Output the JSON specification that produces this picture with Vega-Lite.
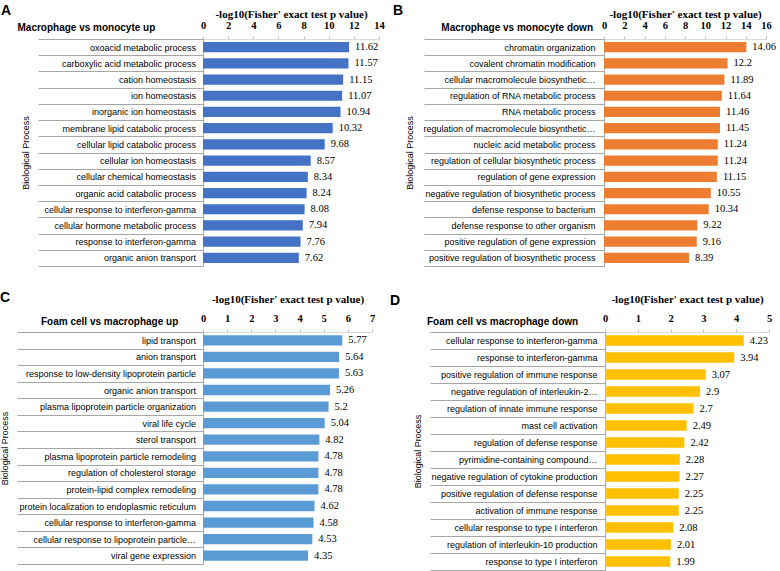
{
  "$schema": "https://vega.github.io/schema/vega-lite/v6.json",
  "padding": {"left": 0, "top": 3, "right": 0, "bottom": 0},
  "background": "white",
  "config": {
    "view": {"stroke": null},
    "font": "Liberation Sans",
    "title": {"color": "#000000", "font": "Liberation Sans", "fontWeight": "bold"},
    "axisX": {
      "labelFont": "Liberation Sans Narrow", "labelFontSize": 10.5, "labelFontWeight": "bold", "labelColor": "#000000",
      "titleFont": "Liberation Sans Narrow", "titleFontSize": 11, "titleFontWeight": "bold", "titleColor": "#000000",
      "tickSize": 3, "tickColor": "#bfbfbf", "domainColor": "#d9d9d9", "labelPadding": 6, "titlePadding": 1,
      "labelFlush": false, "labelOverlap": false, "grid": false
    },
    "axisY": {
      "labelFont": "Liberation Sans", "labelFontSize": 9, "labelColor": "#000000", "labelLimit": 400,
      "titleFont": "Liberation Sans", "titleFontSize": 9, "titleFontWeight": "normal", "titleColor": "#000000",
      "tickColor": "#a6a6a6", "domainColor": "#a6a6a6", "tickBand": "extent", "grid": false, "labelAlign": "right"
    }
  },
  "datasets": {
    "A": [
      {"term": "oxoacid metabolic process", "value": 11.62},
      {"term": "carboxylic acid metabolic process", "value": 11.57},
      {"term": "cation homeostasis", "value": 11.15},
      {"term": "ion homeostasis", "value": 11.07},
      {"term": "inorganic ion homeostasis", "value": 10.94},
      {"term": "membrane lipid catabolic process", "value": 10.32},
      {"term": "cellular lipid catabolic process", "value": 9.68},
      {"term": "cellular ion homeostasis", "value": 8.57},
      {"term": "cellular chemical homeostasis", "value": 8.34},
      {"term": "organic acid catabolic process", "value": 8.24},
      {"term": "cellular response to interferon-gamma", "value": 8.08},
      {"term": "cellular hormone metabolic process", "value": 7.94},
      {"term": "response to interferon-gamma", "value": 7.76},
      {"term": "organic anion transport", "value": 7.62}
    ],
    "B": [
      {"term": "chromatin organization", "value": 14.06},
      {"term": "covalent chromatin modification", "value": 12.2},
      {"term": "cellular macromolecule biosynthetic…", "value": 11.89},
      {"term": "regulation of RNA metabolic process", "value": 11.64},
      {"term": "RNA metabolic process", "value": 11.46},
      {"term": "regulation of macromolecule biosynthetic…", "value": 11.45},
      {"term": "nucleic acid metabolic process", "value": 11.24},
      {"term": "regulation of cellular biosynthetic process", "value": 11.24},
      {"term": "regulation of gene expression", "value": 11.15},
      {"term": "negative regulation of biosynthetic process", "value": 10.55},
      {"term": "defense response to bacterium", "value": 10.34},
      {"term": "defense response to other organism", "value": 9.22},
      {"term": "positive regulation of gene expression", "value": 9.16},
      {"term": "positive regulation of biosynthetic process", "value": 8.39}
    ],
    "C": [
      {"term": "lipid transport", "value": 5.77},
      {"term": "anion transport", "value": 5.64},
      {"term": "response to low-density lipoprotein particle", "value": 5.63},
      {"term": "organic anion transport", "value": 5.26},
      {"term": "plasma lipoprotein particle organization", "value": 5.2},
      {"term": "viral life cycle", "value": 5.04},
      {"term": "sterol transport", "value": 4.82},
      {"term": "plasma lipoprotein particle remodeling", "value": 4.78},
      {"term": "regulation of cholesterol storage", "value": 4.78},
      {"term": "protein-lipid complex remodeling", "value": 4.78},
      {"term": "protein localization to endoplasmic reticulum", "value": 4.62},
      {"term": "cellular response to interferon-gamma", "value": 4.58},
      {"term": "cellular response to lipoprotein particle…", "value": 4.53},
      {"term": "viral gene expression", "value": 4.35}
    ],
    "D": [
      {"term": "cellular response to interferon-gamma", "value": 4.23},
      {"term": "response to interferon-gamma", "value": 3.94},
      {"term": "positive regulation of immune response", "value": 3.07},
      {"term": "negative regulation of interleukin-2…", "value": 2.9},
      {"term": "regulation of innate immune response", "value": 2.7},
      {"term": "mast cell activation", "value": 2.49},
      {"term": "regulation of defense response", "value": 2.42},
      {"term": "pyrimidine-containing compound…", "value": 2.28},
      {"term": "negative regulation of cytokine production", "value": 2.27},
      {"term": "positive regulation of defense response", "value": 2.25},
      {"term": "activation of immune response", "value": 2.25},
      {"term": "cellular response to type I interferon", "value": 2.08},
      {"term": "regulation of interleukin-10 production", "value": 2.01},
      {"term": "response to type I interferon", "value": 1.99}
    ]
  },
  "spacing": 24,
  "vconcat": [
    {
      "spacing": 8,
      "hconcat": [
        {
          "title": {"text": "A", "anchor": "start", "fontSize": 14, "dx": -16.5, "offset": 0, "dy": 9.5},
          "vconcat": [
            {
              "title": {"text": "Macrophage vs monocyte up", "anchor": "start", "frame": "group", "fontSize": 10, "dx": -185.5, "dy": 24.5, "offset": 0},
              "width": 176, "height": 227,
              "data": {"name": "A"},
              "encoding": {
                "y": {"field": "term", "type": "nominal", "sort": null, "scale": {"paddingInner": 0, "paddingOuter": 0},
                  "axis": {"title": "Biological Process", "tickSize": 165, "labelPadding": -157.5, "minExtent": 165, "maxExtent": 165, "titlePadding": 8}},
                "x": {"field": "value", "type": "quantitative", "scale": {"domain": [0, 14]},
                  "axis": {"orient": "top", "values": [0, 2, 4, 6, 8, 10, 12, 14], "title": "-log10(Fisher' exact test p value)"}}
              },
              "layer": [
                {"mark": {"type": "bar", "height": {"band": 0.63}, "color": "#4472C4"}},
                {"mark": {"type": "text", "align": "left", "baseline": "middle", "dx": 6, "font": "Liberation Sans Narrow", "fontSize": 10.5, "color": "#000000"},
                  "encoding": {"text": {"field": "value", "type": "quantitative", "format": "~g"}}}
              ]
            }
          ]
        },
        {
          "title": {"text": "B", "anchor": "start", "fontSize": 14, "dx": -12, "offset": 0, "dy": 9.5},
          "vconcat": [
            {
              "title": {"text": "Macrophage vs monocyte down", "anchor": "start", "frame": "group", "fontSize": 10, "dx": -162.7, "dy": 24.5, "offset": 0},
              "width": 162, "height": 227,
              "data": {"name": "B"},
              "encoding": {
                "y": {"field": "term", "type": "nominal", "sort": null, "scale": {"paddingInner": 0, "paddingOuter": 0},
                  "axis": {"title": "Biological Process", "tickSize": 180, "labelPadding": -171, "minExtent": 180, "maxExtent": 180, "titlePadding": 10}},
                "x": {"field": "value", "type": "quantitative", "scale": {"domain": [0, 16]},
                  "axis": {"orient": "top", "values": [0, 2, 4, 6, 8, 10, 12, 14, 16], "title": "-log10(Fisher' exact test p value)"}}
              },
              "layer": [
                {"mark": {"type": "bar", "height": {"band": 0.63}, "color": "#ED7D31"}},
                {"mark": {"type": "text", "align": "left", "baseline": "middle", "dx": 6, "font": "Liberation Sans Narrow", "fontSize": 10.5, "color": "#000000"},
                  "encoding": {"text": {"field": "value", "type": "quantitative", "format": "~g"}}}
              ]
            }
          ]
        }
      ]
    },
    {
      "spacing": 15,
      "hconcat": [
        {
          "title": {"text": "C", "anchor": "start", "fontSize": 14, "dx": 0, "offset": 0, "dy": 12},
          "vconcat": [
            {
              "title": {"text": "Foam cell vs macrophage up", "anchor": "start", "frame": "group", "fontSize": 10, "dx": -162, "dy": 33.5, "offset": 0},
              "width": 169, "height": 232,
              "data": {"name": "C"},
              "encoding": {
                "y": {"field": "term", "type": "nominal", "sort": null, "scale": {"paddingInner": 0, "paddingOuter": 0},
                  "axis": {"title": "Biological Process", "tickSize": 186, "labelPadding": -178.5, "minExtent": 186, "maxExtent": 186, "titlePadding": 8}},
                "x": {"field": "value", "type": "quantitative", "scale": {"domain": [0, 7]},
                  "axis": {"orient": "top", "values": [0, 1, 2, 3, 4, 5, 6, 7], "title": "-log10(Fisher' exact test p value)", "titlePadding": 9}}
              },
              "layer": [
                {"mark": {"type": "bar", "height": {"band": 0.62}, "color": "#5B9BD5"}},
                {"mark": {"type": "text", "align": "left", "baseline": "middle", "dx": 6, "font": "Liberation Sans Narrow", "fontSize": 10.5, "color": "#000000"},
                  "encoding": {"text": {"field": "value", "type": "quantitative", "format": "~g"}}}
              ]
            }
          ]
        },
        {
          "title": {"text": "D", "anchor": "start", "fontSize": 14, "dx": -23, "offset": 0, "dy": 15},
          "vconcat": [
            {
              "title": {"text": "Foam cell vs macrophage down", "anchor": "start", "frame": "group", "fontSize": 10, "dx": -178, "dy": 33.5, "offset": 0},
              "width": 164, "height": 238,
              "data": {"name": "D"},
              "encoding": {
                "y": {"field": "term", "type": "nominal", "sort": null, "scale": {"paddingInner": 0, "paddingOuter": 0},
                  "axis": {"title": "Biological Process", "tickSize": 175, "labelPadding": -167, "minExtent": 175, "maxExtent": 175, "titlePadding": 8}},
                "x": {"field": "value", "type": "quantitative", "scale": {"domain": [0, 5]},
                  "axis": {"orient": "top", "values": [0, 1, 2, 3, 4, 5], "title": "-log10(Fisher' exact test p value)", "titlePadding": 9}}
              },
              "layer": [
                {"mark": {"type": "bar", "height": {"band": 0.62}, "color": "#FFC000"}},
                {"mark": {"type": "text", "align": "left", "baseline": "middle", "dx": 6, "font": "Liberation Sans Narrow", "fontSize": 10.5, "color": "#000000"},
                  "encoding": {"text": {"field": "value", "type": "quantitative", "format": "~g"}}}
              ]
            }
          ]
        }
      ]
    }
  ]
}
